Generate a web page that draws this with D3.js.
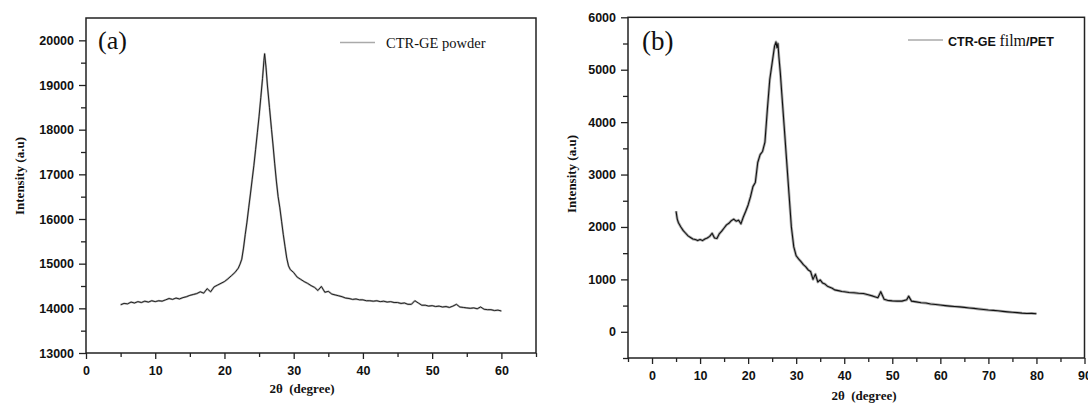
<!DOCTYPE html>
<html>
<head>
<meta charset="utf-8">
<script src="https://cdn.jsdelivr.net/npm/d3@7"></script>
<style>
  body { margin: 0; background: #fff; }
  .tick text { font-family: "Liberation Sans", Arial, sans-serif; font-weight: bold; font-size: 12.5px; fill: #111; }
  .tick line { stroke: #222; stroke-width: 1.3; }
  .axis-title { font-family: "Liberation Serif", "Times New Roman", serif; font-weight: bold; font-size: 13px; fill: #111; }
</style>
</head>
<body>
<div id="chart-container"></div>
<script>
// panel (a) : CTR-GE powder
var powderTheta = [5, 5.5, 6, 6.5, 7, 7.5, 8, 8.5, 9, 9.5, 10, 10.5, 11, 11.5, 12, 12.5, 13, 13.5, 14, 14.5,
  15, 15.5, 16, 16.5, 17, 17.5, 18, 18.5, 19, 19.5, 20, 20.5, 21, 21.5, 22, 22.25, 22.5, 22.75, 23, 23.25,
  23.5, 23.75, 24, 24.25, 24.5, 24.75, 25, 25.25, 25.5, 25.7, 25.8, 26, 26.2, 26.5, 26.8, 27, 27.25, 27.5, 27.75, 28,
  28.25, 28.5, 28.75, 29, 29.25, 29.5, 30, 30.5, 31, 31.5, 32, 32.5, 33, 33.5, 34, 34.5, 35, 35.5, 36, 36.5,
  37, 37.5, 38, 38.5, 39, 39.5, 40, 40.5, 41, 41.5, 42, 42.5, 43, 43.5, 44, 44.5, 45, 45.5, 46, 46.5,
  47, 47.5, 48, 48.5, 49, 49.5, 50, 50.5, 51, 51.5, 52, 52.5, 53, 53.5, 54, 54.5, 55, 55.5, 56, 56.5,
  57, 57.5, 58, 58.5, 59, 59.5, 60];
var powderIntensity = [14080, 14110, 14100, 14140, 14120, 14150, 14130, 14160, 14140, 14170, 14150, 14170, 14160, 14190, 14220, 14200, 14230, 14210, 14240, 14260,
  14290, 14310, 14330, 14370, 14340, 14440, 14370, 14480, 14520, 14560, 14600, 14660, 14730, 14800, 14900, 14990, 15100, 15350, 15650, 15930,
  16250, 16560, 16880, 17200, 17560, 17930, 18300, 18720, 19150, 19550, 19700, 19400, 19000, 18500, 18000, 17680, 17250, 16850, 16500, 16250,
  15950, 15650, 15380, 15120, 14950, 14870, 14800, 14700, 14650, 14600, 14560, 14510, 14470, 14400, 14490, 14360, 14380, 14320, 14300, 14280,
  14260, 14230, 14220, 14200, 14210, 14190, 14190, 14170, 14170, 14160, 14170, 14150, 14160, 14140, 14150, 14130, 14130, 14110, 14120, 14090,
  14090, 14170, 14120, 14070, 14070, 14050, 14060, 14040, 14050, 14030, 14040, 14020, 14050, 14090, 14030, 14020, 14010, 14000, 14010, 13990,
  14030, 13980, 13970, 13970, 13950, 13960, 13940];

// panel (b) : CTR-GE film / PET
var filmTheta = [5, 5.25, 5.5, 6, 6.5, 7, 7.5, 8, 8.5, 9, 9.5, 10, 10.5, 11, 11.5, 12, 12.5, 13, 13.5, 14,
  14.5, 15, 15.5, 16, 16.5, 17, 17.5, 18, 18.5, 19, 19.5, 20, 20.5, 21, 21.5, 22, 22.5, 23, 23.5, 24,
  24.5, 25, 25.5, 25.8, 26, 26.2, 26.4, 26.7, 27, 27.5, 28, 28.5, 29, 29.5, 30, 30.5, 31, 31.5, 32, 32.5,
  33, 33.5, 34, 34.5, 35, 35.5, 36, 36.5, 37, 37.5, 38, 38.5, 39, 39.5, 40, 41, 42, 43, 44, 45,
  46, 47, 47.6, 48.3, 49, 50, 51, 52, 53, 53.4, 54, 55, 56, 57, 58, 59, 60, 61, 62, 63,
  64, 65, 66, 67, 68, 69, 70, 71, 72, 73, 74, 75, 76, 77, 78, 79, 80];
var filmIntensity = [2300, 2150, 2080, 2000, 1930, 1880, 1830, 1800, 1770, 1760, 1740, 1760, 1740, 1770, 1790, 1820, 1880, 1790, 1780, 1870,
  1920, 1980, 2040, 2070, 2120, 2150, 2110, 2130, 2060, 2190, 2300, 2420, 2580, 2770, 2850, 3230, 3380, 3440, 3620, 4240,
  4810, 5130, 5450, 5530, 5420, 5500, 5250, 4940, 4550, 3920, 3280, 2640, 2000, 1620, 1450, 1390, 1340, 1280, 1240, 1180,
  1150, 1000, 1100, 950, 990, 930, 910, 870, 850, 830, 800, 790, 780, 770, 765, 750, 745, 735, 730, 705,
  680, 650, 765, 620, 600, 590, 585, 585, 610, 680, 585, 570, 555, 548, 530, 522, 510, 500, 490, 482,
  475, 465, 455, 447, 435, 425, 415, 408, 400, 390, 380, 372, 365, 356, 350, 352, 345];

var xTicksA = [0, 10, 20, 30, 40, 50, 60];
var xMinorA = [5, 15, 25, 35, 45, 55, 65];
var yTicksA = [13000, 14000, 15000, 16000, 17000, 18000, 19000, 20000];
var yMinorA = [13500, 14500, 15500, 16500, 17500, 18500, 19500];

var xTicksB = [0, 10, 20, 30, 40, 50, 60, 70, 80, 90];
var xMinorB = [-5, 5, 15, 25, 35, 45, 55, 65, 75, 85];
var yTicksB = [0, 1000, 2000, 3000, 4000, 5000, 6000];
var yMinorB = [-500, 500, 1500, 2500, 3500, 4500, 5500];

var svg = d3.select("#chart-container")
    .append("svg")
    .attr("width", 1088)
    .attr("height", 403);

function drawPanel(p) {
    var x = d3.scaleLinear().domain(p.xDomain).range([p.left, p.right]);
    var y = d3.scaleLinear().domain(p.yDomain).range([p.bottom, p.top]);

    var g = svg.append("g");

    // minor ticks
    g.append("g")
        .attr("transform", "translate(0," + p.bottom + ")")
        .call(d3.axisBottom(x).tickValues(p.xMinor).tickSize(4).tickFormat(""))
        .select(".domain").remove();
    g.append("g")
        .attr("transform", "translate(" + p.left + ",0)")
        .call(d3.axisLeft(y).tickValues(p.yMinor).tickSize(5).tickFormat(""))
        .select(".domain").remove();

    // major ticks
    g.append("g")
        .attr("transform", "translate(0," + p.bottom + ")")
        .call(d3.axisBottom(x).tickValues(p.xTicks).tickSize(6).tickPadding(7).tickFormat(d3.format("d")))
        .select(".domain").remove();
    g.append("g")
        .attr("transform", "translate(" + p.left + ",0)")
        .call(d3.axisLeft(y).tickValues(p.yTicks).tickSize(7).tickPadding(5).tickFormat(d3.format("d")))
        .select(".domain").remove();

    // frame
    g.append("rect")
        .attr("x", p.left)
        .attr("y", p.top)
        .attr("width", p.right - p.left)
        .attr("height", p.bottom - p.top)
        .attr("fill", "none")
        .attr("stroke", "#222")
        .attr("stroke-width", 1.5);

    var pts = p.theta.map(function(t, i) { return [t, p.intensity[i]]; });
    var line = d3.line()
        .x(function(d) { return x(d[0]); })
        .y(function(d) { return y(d[1]); });

    // grey halo gives the noisy trace look
    g.append("path")
        .datum(pts)
        .attr("d", line)
        .attr("fill", "none")
        .attr("stroke", "#b0b0b0")
        .attr("stroke-width", p.halo)
        .attr("stroke-linejoin", "round");
    g.append("path")
        .datum(pts)
        .attr("d", line)
        .attr("fill", "none")
        .attr("stroke", "#111")
        .attr("stroke-width", p.stroke)
        .attr("stroke-linejoin", "round");

    // axis titles
    g.append("text")
        .attr("class", "axis-title")
        .attr("x", p.xTitleX)
        .attr("y", p.xTitleY)
        .attr("text-anchor", "middle")
        .style("white-space", "pre")
        .text("2\u03b8  (degree)");
    g.append("text")
        .attr("class", "axis-title")
        .attr("transform", "translate(" + p.yTitleX + "," + p.yTitleY + ") rotate(-90)")
        .attr("text-anchor", "middle")
        .text("Intensity (a.u)");

    // panel letter
    g.append("text")
        .attr("x", p.letterX)
        .attr("y", p.letterY)
        .style("font-family", "'Liberation Serif', 'Times New Roman', serif")
        .style("font-size", p.letterSize + "px")
        .attr("fill", "#111")
        .text(p.letter);

    // legend
    g.append("line")
        .attr("x1", p.legX1).attr("x2", p.legX2)
        .attr("y1", p.legY).attr("y2", p.legY)
        .attr("stroke", "#aaa")
        .attr("stroke-width", 1.3);

    var lt = g.append("text")
        .attr("x", p.legTextX)
        .attr("y", p.legTextY)
        .attr("fill", "#111");
    p.legend.forEach(function(part) {
        lt.append("tspan")
            .style("font-family", part.serif ? "'Liberation Serif', 'Times New Roman', serif" : "'Liberation Sans', Arial, sans-serif")
            .style("font-weight", part.bold ? "bold" : "normal")
            .style("font-size", part.size + "px")
            .text(part.text);
    });
}

drawPanel({
    theta: powderTheta, intensity: powderIntensity,
    xDomain: [0, 65], yDomain: [13000, 20500],
    left: 86, right: 536, top: 18, bottom: 353,
    xTicks: xTicksA, xMinor: xMinorA, yTicks: yTicksA, yMinor: yMinorA,
    halo: 2, stroke: 0.9,
    xTitleX: 302, xTitleY: 393, yTitleX: 24, yTitleY: 176,
    letter: "(a)", letterX: 98, letterY: 49, letterSize: 26,
    legX1: 340, legX2: 375, legY: 42.5, legTextX: 386, legTextY: 47.5,
    legend: [{ text: "CTR-GE powder", serif: true, bold: false, size: 14.5 }]
});

drawPanel({
    theta: filmTheta, intensity: filmIntensity,
    xDomain: [-5, 90], yDomain: [-500, 6000],
    left: 628, right: 1084.5, top: 17.3, bottom: 358,
    xTicks: xTicksB, xMinor: xMinorB, yTicks: yTicksB, yMinor: yMinorB,
    halo: 2.8, stroke: 1.1,
    xTitleX: 864, xTitleY: 400, yTitleX: 576, yTitleY: 174,
    letter: "(b)", letterX: 642, letterY: 50, letterSize: 27,
    legX1: 908, legX2: 943, legY: 40, legTextX: 948, legTextY: 46,
    legend: [
        { text: "CTR-GE ", serif: false, bold: true, size: 12.5 },
        { text: "film", serif: true, bold: false, size: 16 },
        { text: "/PET", serif: false, bold: true, size: 12.5 }
    ]
});
</script>
</body>
</html>
